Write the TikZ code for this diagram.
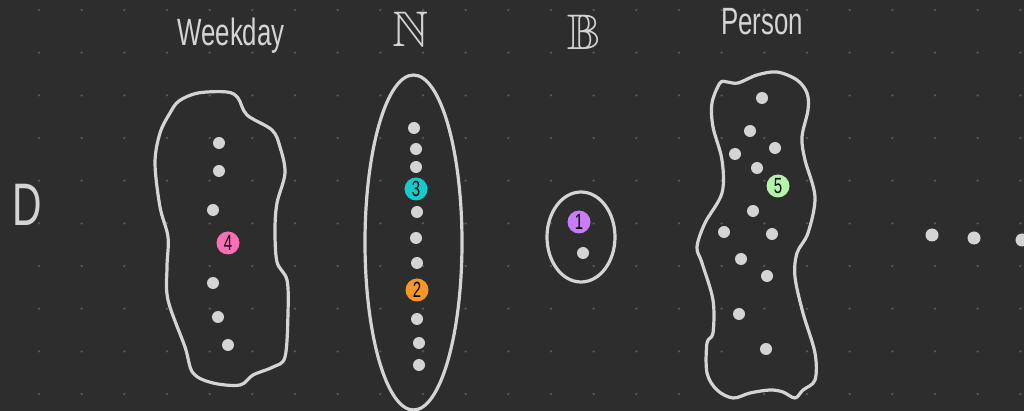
\documentclass[tikz,border=0pt]{standalone}
\usepackage{fontspec}
\usepackage{amssymb}
\setmainfont{Liberation Sans}
\newfontfamily\handfont[FakeStretch=0.68]{Liberation Sans}
\usetikzlibrary{shapes.geometric}
\definecolor{skBack}{HTML}{2D2D2D}
\definecolor{skGrid}{HTML}{555555}
\definecolor{skInk}{HTML}{D4D4D4}
\definecolor{skPink}{HTML}{F96EB5}
\definecolor{skCyan}{HTML}{14CACA}
\definecolor{skOrange}{HTML}{F7972A}
\definecolor{skPurple}{HTML}{C87CF5}
\definecolor{skGreen}{HTML}{B3F4A9}
\tikzset{
  outline/.style={draw=skInk,line width=1.6pt,line cap=round,line join=round},
  setshape/.style={outline,ellipse,inner sep=0pt},
  elem/.style={circle,fill=skInk,inner sep=0pt,minimum size=6pt},
  tag/.style={circle,fill=#1,inner sep=0pt,minimum size=11.5pt,
    text=black,font=\handfont\fontsize{11}{11}\selectfont},
  title/.style={text=skInk,inner sep=0pt,font=\handfont\fontsize{19}{19}\selectfont},
}
\begin{document}
\begin{tikzpicture}[x=0.5pt,y=-0.5pt]
  \clip (0,0) rectangle (1024,411);
  \fill[skBack] (0,0) rectangle (1024,411);
  % dotted canvas
  \foreach \i in {0,...,23} {
    \foreach \j in {0,...,9} {
      \fill[skGrid] (39+42.667*\i,10+42.667*\j) circle (1.4);
    }
  }
  % titles
  \node[title,font=\handfont\fontsize{30}{30}\selectfont] (domain) at (27,205) {D};
  \node[title] (weekdayT) at (231,36) {Weekday};
  \node[title,font=\fontsize{25}{25}\selectfont] (natT) at (411,29) {$\mathbb{N}$};
  \node[title,font=\fontsize{25}{25}\selectfont] (boolT) at (584,32) {$\mathbb{B}$};
  \node[title] (personT) at (762,22) {Person};
  % Weekday
  \draw[outline] plot[smooth cycle,tension=0.55] coordinates {
    (179,101) (198,93) (227,92) (238,98) (247,115) (272,130) (280,147)
    (285,173) (277,203) (275,230) (277,262) (287,280) (288,313) (285,357)
    (273,367) (253,375) (240,385) (213,383) (193,373) (185,347) (168,300)
    (167,267) (168,237) (160,207) (155,163) (160,133) (170,113)};
  \foreach \p [count=\k] in {(219,143),(219,171),(213,210),(213,283),(218,317),(228,345)} {
    \node[elem] (wd\k) at \p {};
  }
  \node[tag=skPink] (four) at (228,243) {4};
  % N
  \node[setshape,minimum width=48.5pt,minimum height=167.5pt] (natset) at (413.5,242.5) {};
  \foreach \p [count=\k] in {(414,128),(416,149),(416,167),(417,212),(416,238),(417,263),
      (417,319),(419,343),(419,365)} {
    \node[elem] (nat\k) at \p {};
  }
  \node[tag=skCyan] (three) at (416,189) {3};
  \node[tag=skOrange] (two) at (417,290) {2};
  % B
  \node[setshape,minimum width=34pt,minimum height=45pt] (boolset) at (581,237) {};
  \node[tag=skPurple] (one) at (579,222) {1};
  \node[elem] (bool1) at (583,253) {};
  % Person
  \draw[outline] plot[smooth cycle,tension=0.55] coordinates {
    (727,82) (738,83) (757,75) (777,72) (797,80) (807,93) (808,110)
    (802,137) (805,160) (815,197) (808,233) (797,253) (795,277) (803,313)
    (815,353) (815,380) (803,390) (795,398) (783,392) (770,390) (750,393)
    (733,398) (717,390) (707,373) (707,343) (713,333) (713,300) (702,263)
    (697,247) (705,223) (722,193) (722,160) (713,127) (712,103) (720,83)};
  \foreach \p [count=\k] in {(762,98),(750,131),(775,148),(735,154),(757,168),(753,211),
      (724,232),(772,234),(741,259),(767,276),(739,314),(766,349)} {
    \node[elem] (ps\k) at \p {};
  }
  \node[tag=skGreen] (five) at (778,186) {5};
  % more sets
  \foreach \p [count=\k] in {(932,235),(974,238),(1022,240)} {
    \node[elem,minimum size=6.5pt] (etc\k) at \p {};
  }
\end{tikzpicture}
\end{document}
